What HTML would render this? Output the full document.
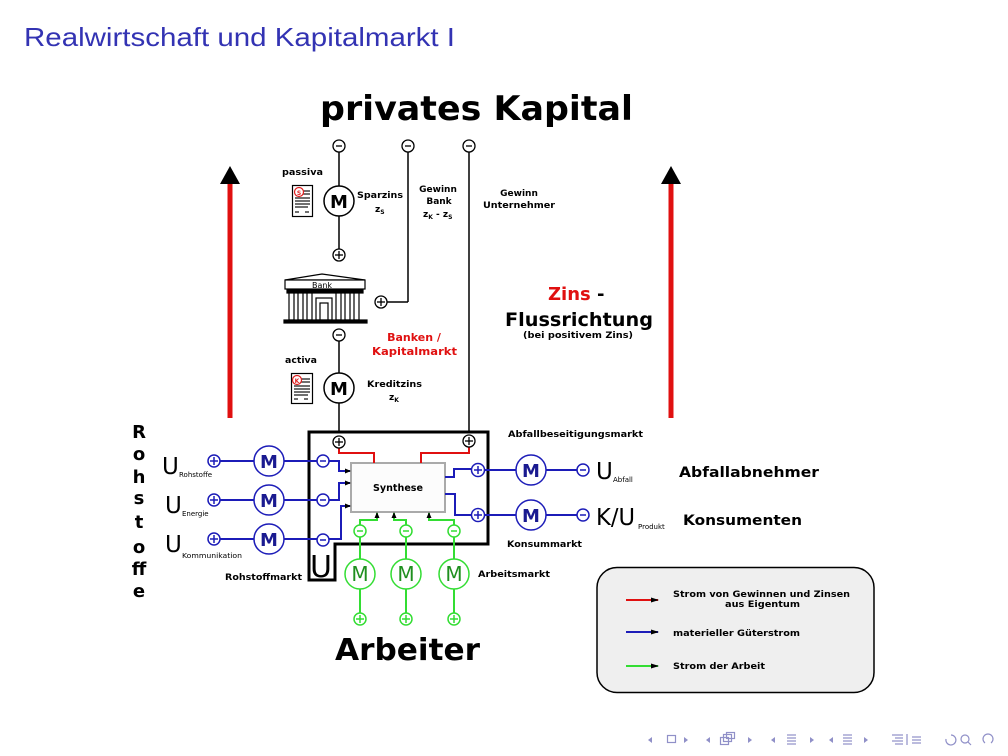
<!DOCTYPE html>
<html><head><meta charset="utf-8"><style>
html,body{margin:0;padding:0;background:#fff;}
svg{display:block;}
.d{font-family:"DejaVu Sans","Liberation Sans",sans-serif;font-weight:bold;}
.n{font-family:"DejaVu Sans","Liberation Sans",sans-serif;}
</style></head><body>
<svg width="1008" height="756" viewBox="0 0 1008 756" xmlns="http://www.w3.org/2000/svg">
<defs>
<marker id="ah" markerWidth="6" markerHeight="6" refX="5" refY="3" orient="auto" markerUnits="userSpaceOnUse"><path d="M0,0.5 L6,3 L0,5.5 Z" fill="#000"/></marker>
<marker id="ah2" markerWidth="8" markerHeight="6" refX="7" refY="3" orient="auto" markerUnits="userSpaceOnUse"><path d="M0,0.5 L8,3 L0,5.5 Z" fill="#000"/></marker>
</defs>
<rect width="1008" height="756" fill="#fff"/>
<!-- title -->
<text x="24" y="46" font-family="Liberation Sans, sans-serif" font-size="26" fill="#3333b3" textLength="431" lengthAdjust="spacingAndGlyphs">Realwirtschaft und Kapitalmarkt I</text>
<text x="320" y="120" class="d" font-size="34" fill="#000" textLength="313" lengthAdjust="spacingAndGlyphs">privates Kapital</text>

<!-- big red arrows -->
<line x1="230" y1="182" x2="230" y2="418" stroke="#e01010" stroke-width="5"/>
<polygon points="220,184 240,184 230,166" fill="#000"/>
<line x1="671" y1="182" x2="671" y2="418" stroke="#e01010" stroke-width="5"/>
<polygon points="661,184 681,184 671,166" fill="#000"/>

<!-- column lines -->
<g stroke="#000" stroke-width="1.5" fill="none">
<line x1="339" y1="152" x2="339" y2="186"/>
<line x1="339" y1="216" x2="339" y2="250"/>
<line x1="408" y1="152" x2="408" y2="302"/>
<line x1="387" y1="302" x2="408" y2="302"/>
<line x1="469" y1="152" x2="469" y2="435"/>
<line x1="339" y1="341" x2="339" y2="373"/>
<line x1="339" y1="403" x2="339" y2="436"/>
</g>
<!-- minus circles black -->
<g stroke="#000" stroke-width="1.3" fill="#fff">
<circle cx="339" cy="146" r="6"/><line x1="336" y1="146" x2="342" y2="146"/>
<circle cx="408" cy="146" r="6"/><line x1="405" y1="146" x2="411" y2="146"/>
<circle cx="469" cy="146" r="6"/><line x1="466" y1="146" x2="472" y2="146"/>
<circle cx="339" cy="335" r="6"/><line x1="336" y1="335" x2="342" y2="335"/>
<circle cx="339" cy="255" r="6"/><line x1="335" y1="255" x2="343" y2="255"/><line x1="339" y1="251" x2="339" y2="259"/>
<circle cx="381" cy="302" r="6"/><line x1="377" y1="302" x2="385" y2="302"/><line x1="381" y1="298" x2="381" y2="306"/>
</g>
<!-- M circles black -->
<g stroke="#000" stroke-width="1.5" fill="#fff">
<circle cx="339" cy="201" r="15"/>
<circle cx="339" cy="388" r="15"/>
</g>
<text x="339" y="208" class="d" font-size="18" text-anchor="middle">M</text>
<text x="339" y="395" class="d" font-size="18" text-anchor="middle">M</text>

<!-- doc icons -->
<g>
<rect x="292.5" y="185.5" width="20" height="31" fill="#fff" stroke="#000" stroke-width="1.2"/>
<g stroke="#222" stroke-width="1.3"><line x1="302" y1="191" x2="310" y2="191"/><line x1="302" y1="194" x2="310" y2="194"/><line x1="295" y1="198" x2="310" y2="198"/><line x1="295" y1="201" x2="310" y2="201"/><line x1="295" y1="204" x2="310" y2="204"/><line x1="295" y1="207" x2="308" y2="207"/><line x1="295" y1="212" x2="299" y2="212"/><line x1="305" y1="212" x2="309" y2="212"/></g>
<circle cx="299" cy="192" r="4.5" fill="#fff" stroke="#e02020" stroke-width="1.2"/>
<text x="299" y="195" class="d" font-size="6" fill="#e02020" text-anchor="middle">S</text>
</g>
<g>
<rect x="291.5" y="373.5" width="21" height="30" fill="#fff" stroke="#000" stroke-width="1.2"/>
<g stroke="#222" stroke-width="1.3"><line x1="301" y1="379" x2="310" y2="379"/><line x1="301" y1="382" x2="310" y2="382"/><line x1="294" y1="386" x2="310" y2="386"/><line x1="294" y1="389" x2="310" y2="389"/><line x1="294" y1="392" x2="310" y2="392"/><line x1="294" y1="395" x2="308" y2="395"/><line x1="294" y1="399" x2="298" y2="399"/><line x1="304" y1="399" x2="308" y2="399"/></g>
<circle cx="297" cy="380" r="4.5" fill="#fff" stroke="#e02020" stroke-width="1.2"/>
<text x="297" y="383" class="d" font-size="6" fill="#e02020" text-anchor="middle">K</text>
</g>

<!-- bank -->
<g stroke="#000" stroke-width="1.2" fill="#fff">
<polygon points="285,280 322,274 365,280"/>
<rect x="285" y="280" width="80" height="9"/>
<rect x="287" y="290" width="76" height="3" fill="#000"/>
<rect x="289" y="293" width="5" height="27"/>
<rect x="298" y="293" width="5" height="27"/>
<rect x="307" y="293" width="5" height="27"/>
<rect x="336" y="293" width="5" height="27"/>
<rect x="345" y="293" width="5" height="27"/>
<rect x="354" y="293" width="5" height="27"/>
<rect x="316" y="298" width="16" height="22"/>
<rect x="320" y="303" width="8" height="17"/>
<rect x="284" y="320" width="83" height="3" fill="#000"/>
</g>
<text x="322" y="288" class="n" font-size="8" text-anchor="middle">Bank</text>

<!-- top labels -->
<text x="282" y="175" class="d" font-size="9" textLength="41" lengthAdjust="spacingAndGlyphs">passiva</text>
<text x="357" y="198" class="d" font-size="9" textLength="46" lengthAdjust="spacingAndGlyphs">Sparzins</text>
<text x="375" y="212" class="d" font-size="9">z<tspan font-size="6" dy="2">S</tspan></text>
<text x="438" y="192" class="d" font-size="9" text-anchor="middle">Gewinn</text>
<text x="439" y="204" class="d" font-size="9" text-anchor="middle">Bank</text>
<text x="423" y="217" class="d" font-size="9">z<tspan font-size="6" dy="2">K</tspan><tspan dy="-2"> - z</tspan><tspan font-size="6" dy="2">S</tspan></text>
<text x="519" y="196" class="d" font-size="9" text-anchor="middle">Gewinn</text>
<text x="519" y="208" class="d" font-size="9" text-anchor="middle" textLength="72" lengthAdjust="spacingAndGlyphs">Unternehmer</text>
<text x="414" y="341" class="d" font-size="11" fill="#e01010" text-anchor="middle">Banken /</text>
<text x="372" y="355" class="d" font-size="11" fill="#e01010" textLength="85" lengthAdjust="spacingAndGlyphs">Kapitalmarkt</text>
<text x="285" y="363" class="d" font-size="9" textLength="32" lengthAdjust="spacingAndGlyphs">activa</text>
<text x="367" y="387" class="d" font-size="9" textLength="55" lengthAdjust="spacingAndGlyphs">Kreditzins</text>
<text x="389" y="400" class="d" font-size="9">z<tspan font-size="6" dy="2">K</tspan></text>

<text x="548" y="300" class="d" font-size="18"><tspan fill="#e01010">Zins</tspan> -</text>
<text x="505" y="326" class="d" font-size="19" textLength="148" lengthAdjust="spacingAndGlyphs">Flussrichtung</text>
<text x="523" y="338" class="d" font-size="9" textLength="110" lengthAdjust="spacingAndGlyphs">(bei positivem Zins)</text>

<!-- main box -->
<path d="M309,432 H488 V544 H335 V580 H309 Z" fill="#fff" stroke="#000" stroke-width="3"/>
<text x="321" y="577" class="n" font-size="30" text-anchor="middle">U</text>

<!-- synthese -->
<rect x="351" y="463" width="94" height="49" fill="#fcfcfc" stroke="#aaa" stroke-width="2"/>
<text x="398" y="491" class="d" font-size="10" text-anchor="middle" textLength="50" lengthAdjust="spacingAndGlyphs">Synthese</text>

<!-- red flows -->
<g stroke="#e01010" stroke-width="2" fill="none">
<polyline points="339,448 339,453 374,453 374,463"/>
<polyline points="421,463 421,453 469,453 469,447"/>
</g>
<g stroke="#000" stroke-width="1.3" fill="#fff">
<circle cx="339" cy="442" r="6"/><line x1="335" y1="442" x2="343" y2="442"/><line x1="339" y1="438" x2="339" y2="446"/>
<circle cx="469" cy="441" r="6"/><line x1="465" y1="441" x2="473" y2="441"/><line x1="469" y1="437" x2="469" y2="445"/>
</g>

<!-- blue left -->
<g stroke="#1c1cb8" stroke-width="2" fill="none">
<line x1="220" y1="461" x2="317" y2="461"/>
<line x1="220" y1="500" x2="317" y2="500"/>
<line x1="220" y1="539" x2="317" y2="539"/>
<polyline points="329,461 339,461 339,471 350,471" marker-end="url(#ah)"/>
<polyline points="329,500 339,500 339,483 350,483" marker-end="url(#ah)"/>
<polyline points="329,539 341,539 341,506 350,506" marker-end="url(#ah)"/>
<polyline points="445,477 454,477 454,469 472,469"/>
<polyline points="445,494 455,494 455,515 472,515"/>
<line x1="484" y1="470" x2="577" y2="470"/>
<line x1="484" y1="515" x2="577" y2="515"/>
</g>
<g stroke="#1c1cb8" stroke-width="1.5" fill="#fff">
<circle cx="214" cy="461" r="6"/><line x1="210" y1="461" x2="218" y2="461"/><line x1="214" y1="457" x2="214" y2="465"/>
<circle cx="214" cy="500" r="6"/><line x1="210" y1="500" x2="218" y2="500"/><line x1="214" y1="496" x2="214" y2="504"/>
<circle cx="214" cy="539" r="6"/><line x1="210" y1="539" x2="218" y2="539"/><line x1="214" y1="535" x2="214" y2="543"/>
<circle cx="269" cy="461" r="15"/><circle cx="269" cy="500" r="15"/><circle cx="269" cy="539" r="15"/>
<circle cx="323" cy="461" r="6"/><line x1="320" y1="461" x2="326" y2="461"/>
<circle cx="323" cy="500" r="6"/><line x1="320" y1="500" x2="326" y2="500"/>
<circle cx="323" cy="540" r="6"/><line x1="320" y1="540" x2="326" y2="540"/>
<circle cx="478" cy="470" r="6.5"/><line x1="474" y1="470" x2="482" y2="470"/><line x1="478" y1="466" x2="478" y2="474"/>
<circle cx="478" cy="515" r="6.5"/><line x1="474" y1="515" x2="482" y2="515"/><line x1="478" y1="511" x2="478" y2="519"/>
<circle cx="531" cy="470" r="15"/><circle cx="531" cy="515" r="15"/>
<circle cx="583" cy="470" r="6"/><line x1="580" y1="470" x2="586" y2="470"/>
<circle cx="583" cy="515" r="6"/><line x1="580" y1="515" x2="586" y2="515"/>
</g>
<g class="d" font-size="18" fill="#1a1a90" text-anchor="middle">
<text x="269" y="468">M</text><text x="269" y="507">M</text><text x="269" y="546">M</text>
<text x="531" y="477">M</text><text x="531" y="522">M</text>
</g>

<!-- green -->
<g stroke="#33dd33" stroke-width="2" fill="none">
<polyline points="360,525 360,520 377,520 377,513" marker-end="url(#ah)"/>
<polyline points="406,525 406,520 394,520 394,513" marker-end="url(#ah)"/>
<polyline points="454,525 454,520 429,520 429,513" marker-end="url(#ah)"/>
<line x1="360" y1="537" x2="360" y2="613"/>
<line x1="406" y1="537" x2="406" y2="613"/>
<line x1="454" y1="537" x2="454" y2="613"/>
</g>
<g stroke="#33dd33" stroke-width="1.5" fill="#fff">
<circle cx="360" cy="531" r="6"/><line x1="357" y1="531" x2="363" y2="531"/>
<circle cx="406" cy="531" r="6"/><line x1="403" y1="531" x2="409" y2="531"/>
<circle cx="454" cy="531" r="6"/><line x1="451" y1="531" x2="457" y2="531"/>
<circle cx="360" cy="574" r="15"/><circle cx="406" cy="574" r="15"/><circle cx="454" cy="574" r="15"/>
<circle cx="360" cy="619" r="6"/><line x1="356" y1="619" x2="364" y2="619"/><line x1="360" y1="615" x2="360" y2="623"/>
<circle cx="406" cy="619" r="6"/><line x1="402" y1="619" x2="410" y2="619"/><line x1="406" y1="615" x2="406" y2="623"/>
<circle cx="454" cy="619" r="6"/><line x1="450" y1="619" x2="458" y2="619"/><line x1="454" y1="615" x2="454" y2="623"/>
</g>
<g class="n" font-size="20" fill="#1f8f1f" text-anchor="middle">
<text x="360" y="581">M</text><text x="406" y="581">M</text><text x="454" y="581">M</text>
</g>

<!-- labels around box -->
<text x="225" y="580" class="d" font-size="9" textLength="77" lengthAdjust="spacingAndGlyphs">Rohstoffmarkt</text>
<text x="478" y="577" class="d" font-size="9" textLength="72" lengthAdjust="spacingAndGlyphs">Arbeitsmarkt</text>
<text x="508" y="437" class="d" font-size="9" textLength="135" lengthAdjust="spacingAndGlyphs">Abfallbeseitigungsmarkt</text>
<text x="507" y="547" class="d" font-size="9" textLength="75" lengthAdjust="spacingAndGlyphs">Konsummarkt</text>
<text x="679" y="477" class="d" font-size="14" textLength="140" lengthAdjust="spacingAndGlyphs">Abfallabnehmer</text>
<text x="683" y="525" class="d" font-size="14" textLength="119" lengthAdjust="spacingAndGlyphs">Konsumenten</text>
<text x="335" y="660" class="d" font-size="30" textLength="145" lengthAdjust="spacingAndGlyphs">Arbeiter</text>

<!-- U labels -->
<g class="n" fill="#000">
<text x="162" y="474" font-size="23">U</text><text x="179" y="477" font-size="7">Rohstoffe</text>
<text x="165" y="513" font-size="23">U</text><text x="182" y="516" font-size="7">Energie</text>
<text x="165" y="552" font-size="23">U</text><text x="182" y="558" font-size="7" textLength="60" lengthAdjust="spacingAndGlyphs">Kommunikation</text>
<text x="596" y="479" font-size="23">U</text><text x="613" y="482" font-size="7">Abfall</text>
<text x="596" y="525" font-size="23" textLength="39" lengthAdjust="spacingAndGlyphs">K/U</text><text x="638" y="529" font-size="7">Produkt</text>
</g>

<!-- Rohstoffe vertical -->
<g class="d" font-size="18" fill="#000" text-anchor="middle">
<text x="139" y="438">R</text>
<text x="139" y="460">o</text>
<text x="139" y="483">h</text>
<text x="139" y="504">s</text>
<text x="139" y="528">t</text>
<text x="139" y="553">o</text>
<text x="139" y="575">ff</text>
<text x="139" y="597">e</text>
</g>

<!-- legend -->
<rect x="597" y="567.5" width="277" height="125" rx="20" ry="20" fill="#efefef" stroke="#000" stroke-width="1.5"/>
<line x1="626" y1="600" x2="658" y2="600" stroke="#e01010" stroke-width="2" marker-end="url(#ah2)"/>
<line x1="626" y1="632" x2="658" y2="632" stroke="#1c1cb8" stroke-width="2" marker-end="url(#ah2)"/>
<line x1="626" y1="666" x2="658" y2="666" stroke="#33dd33" stroke-width="2" marker-end="url(#ah2)"/>
<text x="673" y="597" class="d" font-size="9" textLength="177" lengthAdjust="spacingAndGlyphs">Strom von Gewinnen und Zinsen</text>
<text x="725" y="607" class="d" font-size="9" textLength="75" lengthAdjust="spacingAndGlyphs">aus Eigentum</text>
<text x="673" y="636" class="d" font-size="9" textLength="127" lengthAdjust="spacingAndGlyphs">materieller Güterstrom</text>
<text x="673" y="669" class="d" font-size="9" textLength="92" lengthAdjust="spacingAndGlyphs">Strom der Arbeit</text>

<!-- nav icons -->
<g fill="#9090c8" stroke="#9090c8" stroke-width="1.2" transform="translate(0,6)">
<polygon points="652,731 652,737 648,734" stroke="none"/>
<rect x="667.5" y="729.5" width="8" height="7" fill="none"/>
<polygon points="684,731 684,737 688,734" stroke="none"/>
<polygon points="710,731 710,737 706,734" stroke="none"/>
<rect x="720.5" y="731.5" width="8" height="7" fill="none"/><rect x="723.5" y="728.5" width="8" height="7" fill="none"/><rect x="726.5" y="726.5" width="8" height="6" fill="none"/>
<polygon points="748,731 748,737 752,734" stroke="none"/>
<polygon points="775,731 775,737 771,734" stroke="none"/>
<line x1="787" y1="729" x2="796" y2="729"/><line x1="787" y1="732" x2="796" y2="732"/><line x1="787" y1="735" x2="796" y2="735"/><line x1="787" y1="738" x2="796" y2="738"/>
<polygon points="810,731 810,737 814,734" stroke="none"/>
<polygon points="833,731 833,737 829,734" stroke="none"/>
<line x1="843" y1="729" x2="852" y2="729"/><line x1="843" y1="732" x2="852" y2="732"/><line x1="843" y1="735" x2="852" y2="735"/><line x1="843" y1="738" x2="852" y2="738"/>
<polygon points="864,731 864,737 868,734" stroke="none"/>
<line x1="892" y1="729" x2="903" y2="729"/><line x1="895" y1="732" x2="903" y2="732"/><line x1="892" y1="735" x2="903" y2="735"/><line x1="895" y1="738" x2="903" y2="738"/>
<line x1="907" y1="728" x2="907" y2="739"/>
<line x1="912" y1="731" x2="921" y2="731"/><line x1="912" y1="734" x2="921" y2="734"/><line x1="912" y1="737" x2="921" y2="737"/>
<path d="M946,733 a5,5 0 1 0 5,-4" fill="none"/>
<circle cx="965" cy="733" r="4" fill="none"/><line x1="968" y1="736" x2="971" y2="739"/>
<path d="M985,737 a5,5 0 1 1 6,0" fill="none"/>
</g>
</svg>
</body></html>
